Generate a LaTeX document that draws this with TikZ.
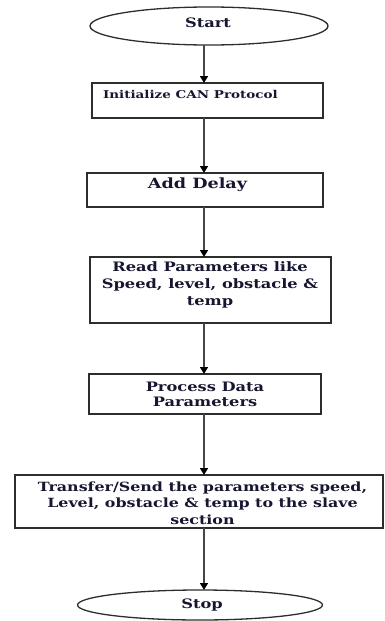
\documentclass[tikz,border=0pt]{standalone}
\usepackage{fontspec}
\newfontfamily\flowfont[FakeStretch=1.25]{DejaVu Serif}
\usetikzlibrary{arrows.meta,shapes.geometric}
\definecolor{inkc}{RGB}{22,22,48}
\definecolor{linec}{RGB}{45,45,45}
\definecolor{arrc}{RGB}{70,70,70}
\begin{document}
\begin{tikzpicture}[x=1pt,y=1pt,
  every node/.style={inner sep=0pt,outer sep=0pt,text=inkc,font=\flowfont\bfseries\fontsize{13}{17}\selectfont},
  term/.style={draw=linec,line width=1.3pt,ellipse},
  stepbox/.style={draw=linec,line width=1.3pt,rectangle},
  flow/.style={draw=arrc,line width=1.6pt,-{Triangle[width=8pt,length=7pt,fill=black,color=black]}}]
\useasboundingbox (0,0) rectangle (384,-621);
\coordinate (axis) at (204,0);
% terminals and process boxes
\node[term,minimum width=238pt,minimum height=38pt] (start) at (209,-26) {};
\node[stepbox,minimum width=231pt,minimum height=35pt] (b1) at (207.5,-100.5) {};
\node[stepbox,minimum width=236pt,minimum height=34pt] (b2) at (205,-190) {};
\node[stepbox,minimum width=241pt,minimum height=66pt] (b3) at (210.5,-290) {};
\node[stepbox,minimum width=232pt,minimum height=40pt] (b4) at (205,-394) {};
\node[stepbox,minimum width=368pt,minimum height=53pt] (b5) at (199,-501.5) {};
\node[term,minimum width=245pt,minimum height=30pt] (stop) at (200,-605) {};
% labels
\node (t0) at (208,-23) {Start};
\node[anchor=west,font=\flowfont\bfseries\fontsize{10.8}{12}\selectfont] (t1) at (103,-94) {Initialize CAN Protocol};
\node[font=\flowfont\bfseries\fontsize{14.1}{16}\selectfont] (t2) at (197.5,-185) {Add Delay};
\node[align=center] (t3) at (210,-285) {Read Parameters like\\Speed, level, obstacle \&\\temp};
\node[align=center,font=\flowfont\bfseries\fontsize{13}{15}\selectfont] (t4) at (205,-394.5) {Process Data\\Parameters};
\node[align=center,font=\flowfont\bfseries\fontsize{12.7}{16.5}\selectfont] (t5) at (202.5,-503) {Transfer/Send the parameters speed,\\Level, obstacle \& temp to the slave\\section};
\node (t6) at (202,-605) {Stop};
% connectors
\draw[flow] (start.south -| axis) -- (b1.north -| axis);
\draw[flow] (b1.south -| axis) -- (b2.north -| axis);
\draw[flow] (b2.south -| axis) -- (b3.north -| axis);
\draw[flow] (b3.south -| axis) -- (b4.north -| axis);
\draw[flow] (b4.south -| axis) -- (b5.north -| axis);
\draw[flow] (b5.south -| axis) -- (stop.north -| axis);
\end{tikzpicture}
\end{document}
